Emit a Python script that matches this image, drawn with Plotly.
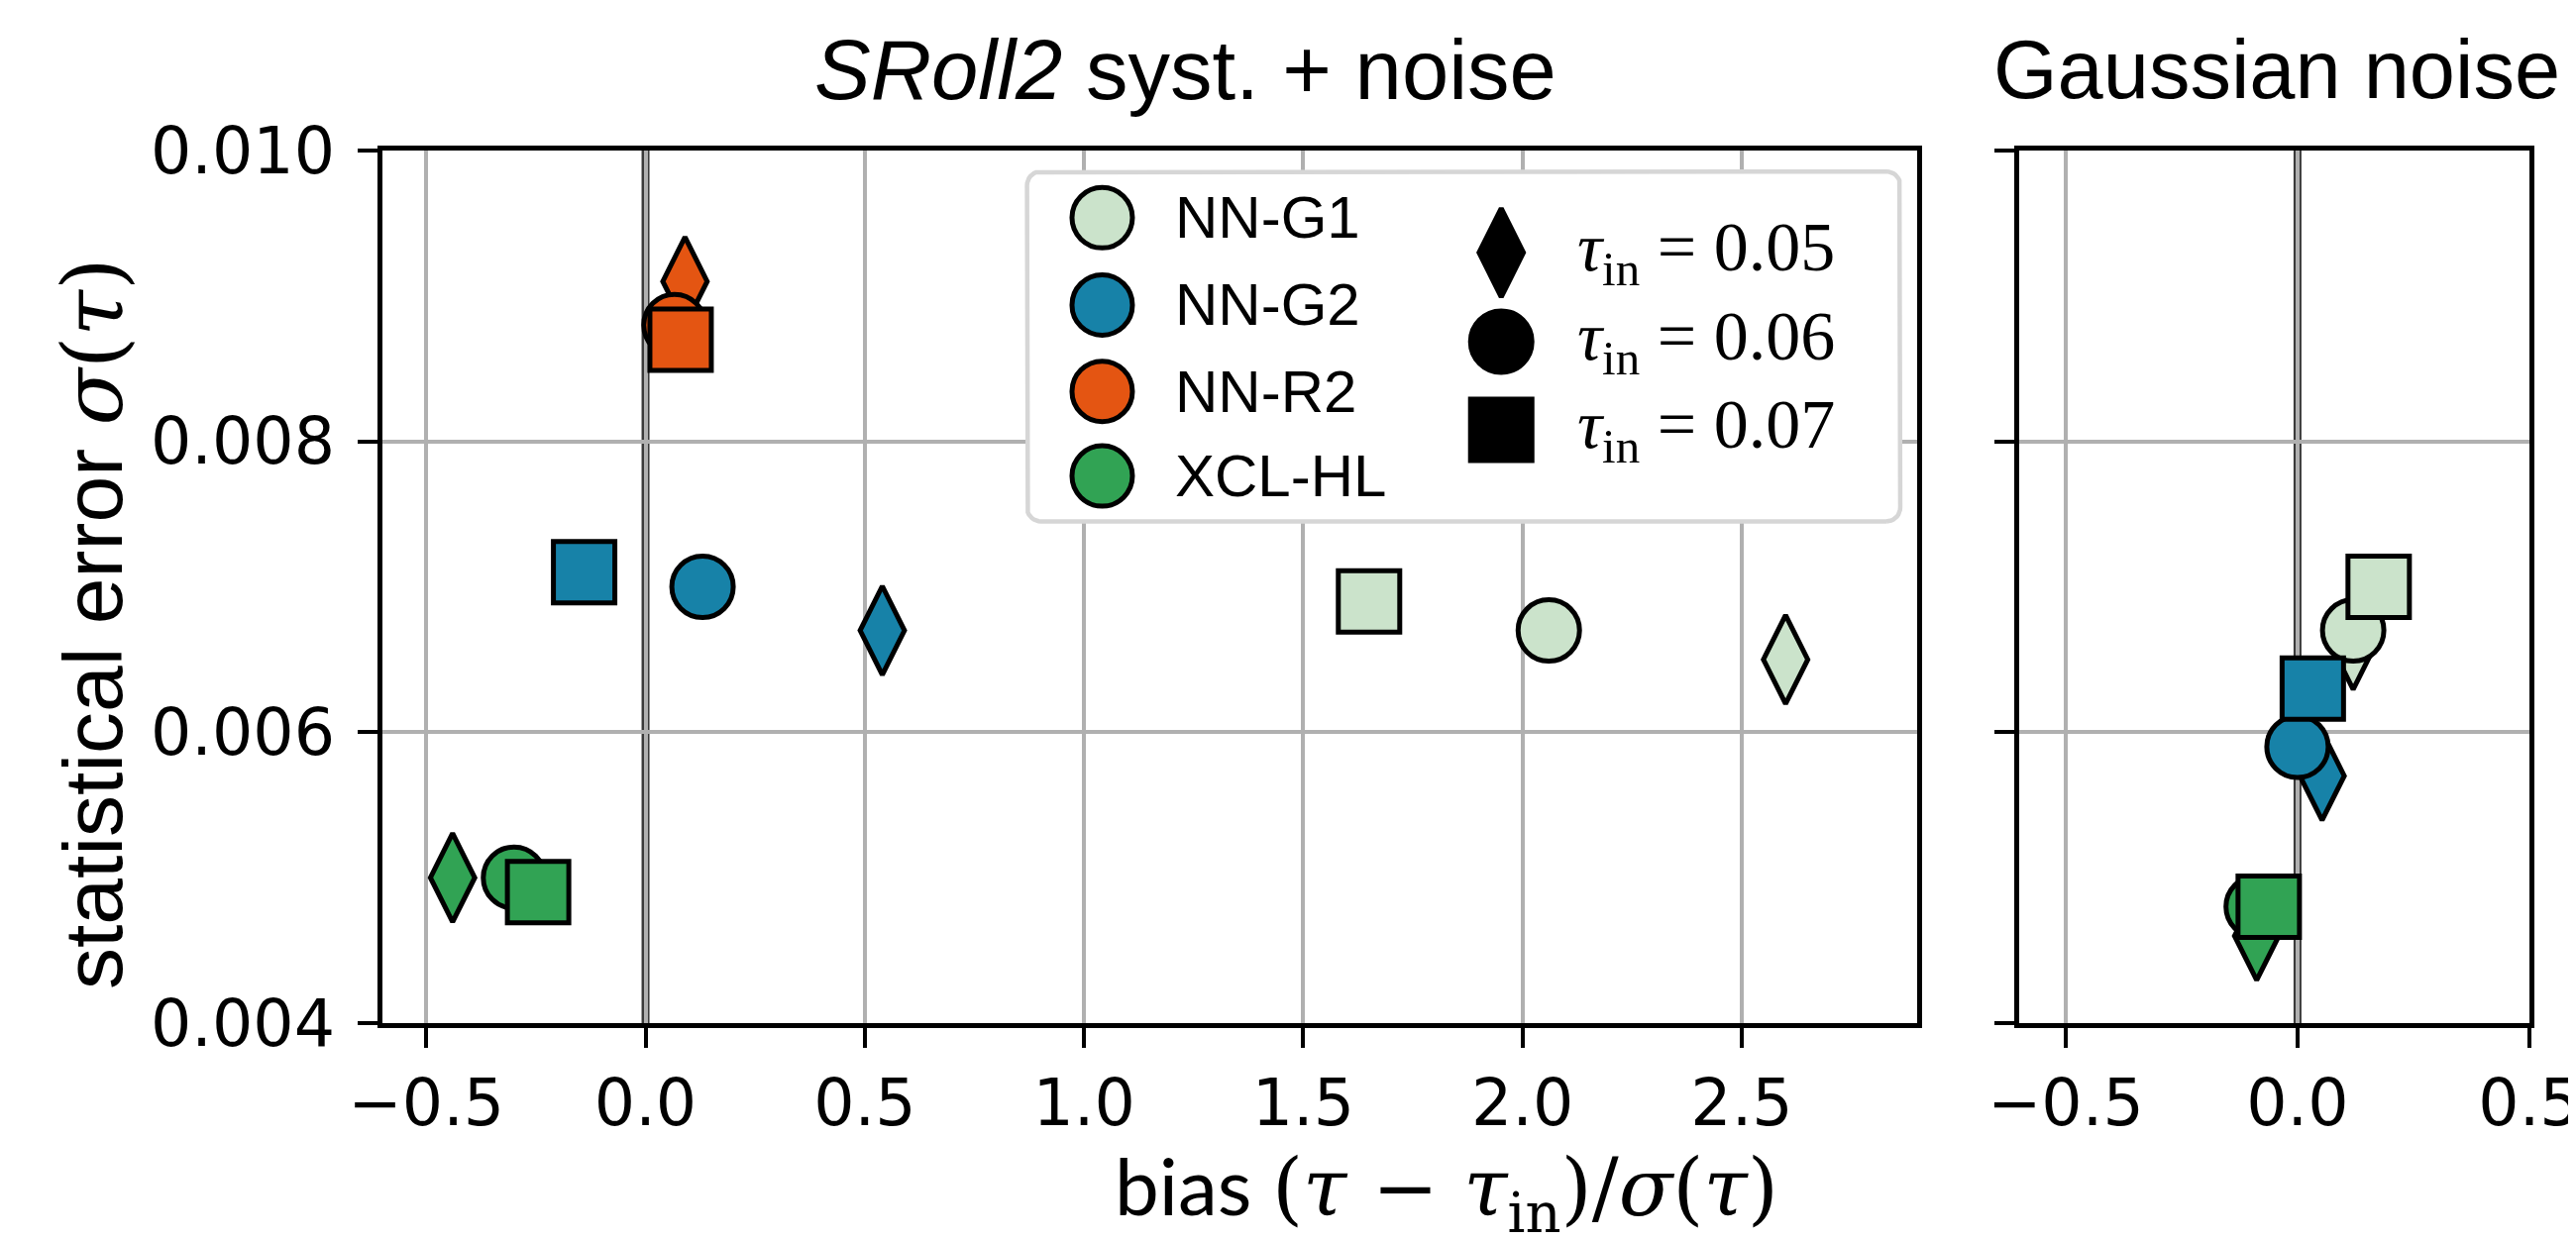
import numpy as np
import plotly.graph_objects as go

# ---------------- data ----------------
models = ["NN-G1", "NN-G2", "NN-R2", "XCL-HL"]
colors = ["#cbe3cb", "#1782a8", "#e45512", "#31a354"]
tau_in = [0.05, 0.06, 0.07]
tau_labels = ["0.05", "0.06", "0.07"]

# SRoll2 systematics + noise panel (order: tau_in = 0.05, 0.06, 0.07)
sroll_bias = {
    "NN-G1": [2.60, 2.06, 1.65],
    "NN-G2": [0.54, 0.13, -0.14],
    "NN-R2": [0.09, 0.066, 0.08],
    "XCL-HL": [-0.44, -0.30, -0.245],
}
sroll_sigma = {
    "NN-G1": [0.0065, 0.0067, 0.0069],
    "NN-G2": [0.0067, 0.0070, 0.0071],
    "NN-R2": [0.0091, 0.0088, 0.0087],
    "XCL-HL": [0.0050, 0.0050, 0.0049],
}

# Gaussian noise panel
gauss_models = ["NN-G1", "NN-G2", "XCL-HL"]
gauss_bias = {
    "NN-G1": [0.12, 0.12, 0.175],
    "NN-G2": [0.053, 0.0, 0.033],
    "XCL-HL": [-0.088, -0.088, -0.062],
}
gauss_sigma = {
    "NN-G1": [0.0066, 0.0067, 0.0070],
    "NN-G2": [0.0057, 0.0059, 0.0063],
    "XCL-HL": [0.0046, 0.0048, 0.0048],
}

x_ticks_left = [-0.5, 0.0, 0.5, 1.0, 1.5, 2.0, 2.5]
x_ticks_right = [-0.5, 0.0, 0.5]
y_ticks = [0.004, 0.006, 0.008, 0.010]

# ---------------- styling ----------------
symbols = ["diamond-tall", "circle", "square"]
sizes = [64, 62, 62]
LW = 5
W, H = 2600, 1252
PW, PH = 1549, 881   # left panel plot area in px

fig = go.Figure()

# draw order: diamonds, then circles, then squares
for k in range(3):
    for m, c in zip(models, colors):
        fig.add_trace(go.Scatter(
            x=[sroll_bias[m][k]], y=[sroll_sigma[m][k]], mode="markers",
            marker=dict(symbol=symbols[k], size=sizes[k], color=c,
                        line=dict(color="black", width=LW)),
            xaxis="x", yaxis="y", showlegend=False, hoverinfo="skip"))
for k in range(3):
    for m in gauss_models:
        c = colors[models.index(m)]
        fig.add_trace(go.Scatter(
            x=[gauss_bias[m][k]], y=[gauss_sigma[m][k]], mode="markers",
            marker=dict(symbol=symbols[k], size=sizes[k], color=c,
                        line=dict(color="black", width=LW)),
            xaxis="x2", yaxis="y2", showlegend=False, hoverinfo="skip"))

# ---------------- manual legend (overlay axes spanning the left panel) ----------------
# legend frame: rounded rectangle as a filled outline
bx0, bx1, by0, by1 = 0.420, 0.989, 0.575, 0.976
rad = 14
rx, ry = rad / PW, rad / PH
fx, fy = [], []
corners = [(bx1 - rx, by0 + ry, -np.pi / 2, 0), (bx1 - rx, by1 - ry, 0, np.pi / 2),
           (bx0 + rx, by1 - ry, np.pi / 2, np.pi), (bx0 + rx, by0 + ry, np.pi, 1.5 * np.pi)]
for cx, cy, a0, a1 in corners:
    t = np.linspace(a0, a1, 10)
    fx.extend(cx + rx * np.cos(t))
    fy.extend(cy + ry * np.sin(t))
fx.append(fx[0])
fy.append(fy[0])
fig.add_trace(go.Scatter(
    x=fx, y=fy, mode="lines", fill="toself", fillcolor="white",
    line=dict(color="#d6d6d6", width=4.5),
    xaxis="x3", yaxis="y3", showlegend=False, hoverinfo="skip"))

leg_col_x = 0.469
leg_col_y = [0.923, 0.823, 0.724, 0.627]
leg_shape_x = 0.729
leg_shape_y = [0.883, 0.781, 0.680]

fig.add_trace(go.Scatter(
    x=[leg_col_x] * len(models), y=leg_col_y, mode="markers",
    marker=dict(symbol="circle", size=61, color=colors,
                line=dict(color="black", width=LW)),
    xaxis="x3", yaxis="y3", showlegend=False, hoverinfo="skip"))
for k in range(3):
    fig.add_trace(go.Scatter(
        x=[leg_shape_x], y=[leg_shape_y[k]], mode="markers",
        marker=dict(symbol=symbols[k], size=sizes[k], color="black",
                    line=dict(color="black", width=LW)),
        xaxis="x3", yaxis="y3", showlegend=False, hoverinfo="skip"))

annotations = []
for m, yy in zip(models, leg_col_y):
    annotations.append(dict(text=m, x=0.515, y=yy, xref="x domain", yref="y domain",
                            xanchor="left", yanchor="middle", showarrow=False,
                            font=dict(family="Liberation Sans", size=60, color="black")))
for lab, yy in zip(tau_labels, leg_shape_y):
    annotations.append(dict(text="<i>τ</i><sub>in</sub> = " + lab, x=0.777, y=yy,
                            xref="x domain", yref="y domain",
                            xanchor="left", yanchor="middle", showarrow=False,
                            font=dict(family="Liberation Serif", size=70, color="black")))

# titles
annotations.append(dict(text="<i>SRoll2</i> syst. + noise", x=1188 / W, y=1 - 62 / H,
                        xref="paper", yref="paper", xanchor="center", yanchor="middle",
                        showarrow=False,
                        font=dict(family="Liberation Sans", size=85, color="black")))
annotations.append(dict(text="Gaussian noise", x=2290 / W, y=1 - 62 / H,
                        xref="paper", yref="paper", xanchor="center", yanchor="middle",
                        showarrow=False,
                        font=dict(family="Liberation Sans", size=83, color="black")))
# axis labels
annotations.append(dict(
    text="statistical error <span style='font-family:DejaVu Serif'><i>σ</i>(<i>τ</i>)</span>",
    x=86 / W, y=1 - 622 / H, xref="paper", yref="paper", textangle=-90,
    xanchor="center", yanchor="middle", showarrow=False,
    font=dict(family="Liberation Sans", size=84, color="black")))
annotations.append(dict(
    text="bias <span style='font-family:DejaVu Serif'>(<i>τ</i> − <i>τ</i><sub>in</sub>)/<i>σ</i>(<i>τ</i>)</span>",
    x=1452 / W, y=1 - 1194 / H, xref="paper", yref="paper",
    xanchor="center", yanchor="middle", showarrow=False,
    font=dict(family="Lato", size=80, color="black")))

# ---------------- shapes: dark vertical line at zero bias ----------------
shapes = []
for xr, yr in [("x", "y"), ("x2", "y2")]:
    shapes.append(dict(type="line", xref=xr, yref=yr + " domain", x0=0, x1=0, y0=0, y1=1,
                       line=dict(color="#3a3a3a", width=8), layer="below"))

axis_common = dict(
    showline=True, linecolor="black", linewidth=5, mirror=True,
    ticks="outside", ticklen=20, tickwidth=4, tickcolor="black",
    showgrid=True, gridcolor="#b0b0b0", gridwidth=4, zeroline=False,
    automargin=False,
    tickfont=dict(family="DejaVu Sans", size=65, color="black"),
)

dom_x1 = [378 / W, 1927 / W]
dom_x2 = [2030 / W, 2545 / W]
dom_y = [1 - 1025 / H, 1 - 144 / H]

fig.update_layout(
    width=W, height=H, autosize=False,
    margin=dict(l=0, r=0, t=0, b=0, pad=0, autoexpand=False),
    paper_bgcolor="white", plot_bgcolor="white",
    showlegend=False,
    xaxis=dict(domain=dom_x1, range=[-0.6, 2.9], tickvals=x_ticks_left,
               tickformat=".1f", anchor="y", **axis_common),
    yaxis=dict(domain=dom_y, range=[0.004, 0.010], tickvals=y_ticks,
               tickformat=".3f", anchor="x", ticklabelstandoff=10, **axis_common),
    xaxis2=dict(domain=dom_x2, range=[-0.6, 0.5], tickvals=x_ticks_right,
                tickformat=".1f", anchor="y2", **axis_common),
    yaxis2=dict(domain=dom_y, range=[0.004, 0.010], tickvals=y_ticks,
                showticklabels=False, anchor="x2", **axis_common),
    xaxis3=dict(overlaying="x", range=[0, 1], visible=False, showgrid=False,
                fixedrange=True, automargin=False),
    yaxis3=dict(overlaying="y", range=[0, 1], visible=False, showgrid=False,
                fixedrange=True, automargin=False),
    annotations=annotations,
    shapes=shapes,
)

fig.write_html("out.html")
